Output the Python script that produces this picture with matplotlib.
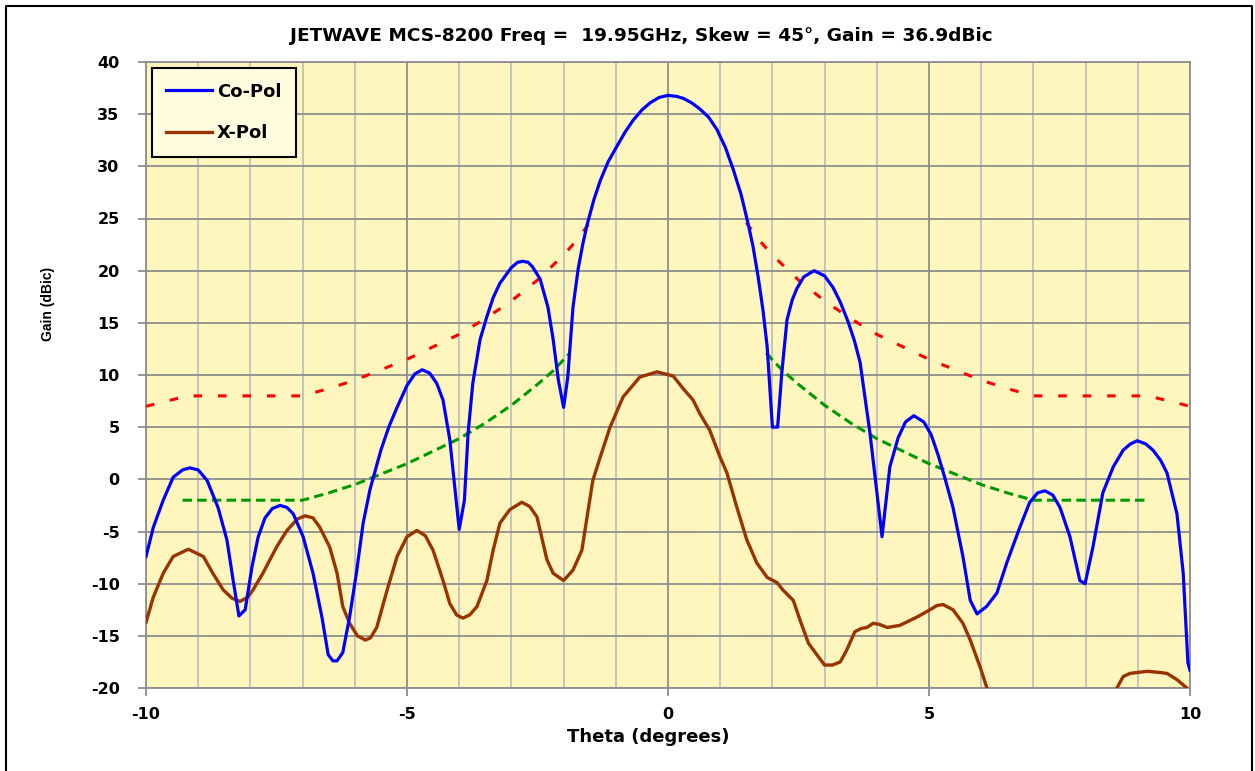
import matplotlib
matplotlib.use("Agg")
import matplotlib.pyplot as plt
from matplotlib.lines import Line2D
from matplotlib.ticker import MultipleLocator

plt.rcParams["axes.unicode_minus"] = False

# ---------------- data ----------------
co_theta = [-10.0, -9.86, -9.67, -9.48, -9.3, -9.16, -9.0, -8.83, -8.62, -8.45, -8.33, -8.22, -8.1,
            -7.97, -7.85, -7.72, -7.58, -7.43, -7.3, -7.18, -6.99, -6.8, -6.63, -6.51, -6.42, -6.34,
            -6.23, -6.1, -5.97, -5.84, -5.71, -5.5, -5.35, -5.19, -5.0, -4.85, -4.71, -4.57, -4.43,
            -4.31, -4.18, -4.08, -4.0, -3.9, -3.83, -3.74, -3.6, -3.47, -3.35, -3.22, -3.0, -2.88,
            -2.78, -2.68, -2.6, -2.45, -2.3, -2.2, -2.1, -2.0, -1.92, -1.82, -1.72, -1.63, -1.55,
            -1.42, -1.3, -1.15, -0.97, -0.82, -0.67, -0.5, -0.34, -0.17, 0.0, 0.17, 0.3, 0.45,
            0.61, 0.78, 0.94, 1.1, 1.25, 1.4, 1.53, 1.63, 1.73, 1.82, 1.9, 2.0, 2.1, 2.18, 2.28,
            2.38, 2.47, 2.6, 2.8, 3.0, 3.16, 3.3, 3.45, 3.57, 3.68, 3.87, 4.1, 4.25, 4.41, 4.55,
            4.71, 4.9, 5.04, 5.17, 5.3, 5.46, 5.65, 5.79, 5.92, 6.1, 6.3, 6.49, 6.74, 6.93, 7.08,
            7.22, 7.37, 7.51, 7.7, 7.89, 7.99, 8.14, 8.33, 8.53, 8.72, 8.86, 8.99, 9.15, 9.29,
            9.44, 9.56, 9.75, 9.87, 9.96, 10.0]
co_gain = [-7.4, -4.6, -2.0, 0.2, 0.9, 1.1, 0.9, -0.1, -2.7, -5.8, -9.7, -13.1, -12.5,
           -8.4, -5.5, -3.7, -2.8, -2.5, -2.7, -3.3, -5.5, -9.0, -13.2, -16.8, -17.4, -17.4,
           -16.6, -13.2, -9.0, -4.2, -1.0, 2.8, 5.0, 6.9, 9.0, 10.1, 10.5, 10.2, 9.2,
           7.6, 3.8, -1.0, -4.8, -2.0, 4.4, 9.2, 13.4, 15.6, 17.4, 18.8, 20.3, 20.8,
           20.9, 20.8, 20.4, 19.2, 16.5, 13.4, 9.5, 6.9, 9.8, 16.5, 20.2, 22.6, 24.4,
           26.8, 28.6, 30.4, 32.0, 33.3, 34.4, 35.4, 36.1, 36.6, 36.8, 36.7, 36.5, 36.1,
           35.5, 34.7, 33.5, 31.8, 29.7, 27.3, 24.6, 22.3, 19.3, 16.2, 12.7, 5.0, 5.0, 10.2, 15.3,
           17.2, 18.3, 19.4, 20.0, 19.5, 18.4, 17.0, 15.1, 13.3, 11.2, 4.4, -5.5, 1.2, 4.0, 5.5,
           6.1, 5.5, 4.3, 2.4, 0.2, -2.7, -7.4, -11.6, -12.9, -12.2, -10.9, -8.0, -4.6, -2.2, -1.3,
           -1.1, -1.5, -2.7, -5.5, -9.7, -10.0, -6.5, -1.3, 1.2, 2.8, 3.4, 3.7, 3.4, 2.8,
           1.8, 0.6, -3.3, -9.0, -17.6, -18.3]

x_theta = [-10.0, -9.86, -9.67, -9.48, -9.19, -8.9, -8.72, -8.52, -8.35, -8.2, -8.05, -7.95, -7.76,
           -7.5, -7.3, -7.1, -6.95, -6.8, -6.67, -6.48, -6.34, -6.23, -6.1, -5.95, -5.8, -5.7,
           -5.58, -5.38, -5.19, -5.0, -4.81, -4.65, -4.5, -4.31, -4.18, -4.05, -3.93, -3.8, -3.66,
           -3.47, -3.35, -3.22, -3.03, -2.8, -2.65, -2.51, -2.32, -2.2, -2.0, -1.82, -1.65, -1.55,
           -1.44, -1.3, -1.11, -0.86, -0.54, -0.21, 0.1, 0.29, 0.48, 0.61, 0.8, 1.0, 1.13, 1.32,
           1.51, 1.7, 1.9, 2.09, 2.2, 2.4, 2.53, 2.69, 2.85, 3.0, 3.15, 3.3, 3.42, 3.58, 3.7,
           3.81, 3.93, 4.05, 4.2, 4.44, 4.77, 5.02, 5.15, 5.27, 5.46, 5.65, 5.79, 5.98, 6.11,
           6.4, 7.0, 7.6, 8.2, 8.6, 8.72, 8.85, 9.18, 9.4, 9.56, 9.75, 9.94, 10.0]
x_gain = [-13.7, -11.3, -9.0, -7.4, -6.7, -7.4, -9.0, -10.6, -11.4, -11.7, -11.3, -10.6, -9.0,
          -6.5, -4.9, -3.8, -3.5, -3.7, -4.6, -6.5, -9.0, -12.2, -13.8, -15.0, -15.4, -15.2,
          -14.2, -10.6, -7.4, -5.5, -4.9, -5.4, -6.8, -9.7, -11.9, -13.0, -13.3, -13.0, -12.2,
          -9.7, -6.8, -4.2, -2.9, -2.2, -2.6, -3.6, -7.7, -9.0, -9.7, -8.7, -6.8, -3.6,
          -0.1, 2.1, 5.0, 7.9, 9.8, 10.3, 9.9, 8.7, 7.6, 6.3, 4.7, 2.1, 0.6, -2.7,
          -5.8, -8.0, -9.4, -9.9, -10.6, -11.6, -13.5, -15.7, -16.8, -17.8, -17.8, -17.5, -16.4, -14.6, -14.3,
          -14.2, -13.8, -13.9, -14.2, -14.0, -13.2, -12.5, -12.1, -12.0, -12.5, -13.8, -15.4, -18.0, -20.0,
          -23.5, -27.0, -27.5, -24.5, -20.0, -18.9, -18.6, -18.4, -18.5, -18.6, -19.2, -20.0, -20.5]

# mask envelopes
red_l_theta = [-10.0, -9.6, -9.2, -8.0, -7.0, -6.5, -6.0, -5.5, -5.0, -4.5, -4.0, -3.5, -3.0, -2.5, -2.0, -1.75, -1.5]
red_l_gain = [7.0, 7.5, 8.0, 8.0, 8.0, 8.7, 9.5, 10.5, 11.5, 12.7, 13.9, 15.4, 17.1, 19.1, 21.5, 22.9, 24.6]
red_r_theta = [1.5, 1.75, 2.0, 2.5, 3.0, 3.5, 4.0, 4.5, 5.0, 5.5, 6.0, 6.5, 7.0, 8.0, 9.2, 9.6, 10.0]
red_r_gain = [24.6, 22.9, 21.5, 19.1, 17.1, 15.4, 13.9, 12.7, 11.5, 10.5, 9.5, 8.7, 8.0, 8.0, 8.0, 7.5, 7.0]
grn_l_theta = [-9.3, -8.0, -7.0, -6.5, -6.0, -5.5, -5.0, -4.5, -4.0, -3.5, -3.0, -2.5, -2.2, -1.88]
grn_l_gain = [-2.0, -2.0, -2.0, -1.3, -0.5, 0.5, 1.5, 2.7, 3.9, 5.4, 7.1, 9.1, 10.4, 12.1]
grn_r_theta = [1.88, 2.2, 2.5, 3.0, 3.5, 4.0, 4.5, 5.0, 5.5, 6.0, 6.5, 7.0, 8.0, 9.2]
grn_r_gain = [12.1, 10.4, 9.1, 7.1, 5.4, 3.9, 2.7, 1.5, 0.5, -0.5, -1.3, -2.0, -2.0, -2.0]

title = "JETWAVE MCS-8200 Freq =  19.95GHz, Skew = 45°, Gain = 36.9dBic"
x_ticks = [-10, -5, 0, 5, 10]
y_ticks = [-20, -15, -10, -5, 0, 5, 10, 15, 20, 25, 30, 35, 40]

# ---------------- figure ----------------
W, H = 1255, 771
fig = plt.figure(figsize=(W / 100, H / 100), dpi=100)
fig.patch.set_facecolor("white")
ax = fig.add_axes([146 / W, 1 - 688 / H, (1190 - 146) / W, (688 - 62) / H])
ax.set_facecolor("#FFF6BE")

ax.set_xlim(-10, 10)
ax.set_ylim(-20, 40)
ax.set_xticks(x_ticks)
ax.set_yticks(y_ticks)
ax.xaxis.set_minor_locator(MultipleLocator(1))
ax.grid(which="minor", axis="x", color="#BEBEBE", lw=1.3)
ax.grid(which="major", axis="both", color="#8E8E8E", lw=1.3)
ax.set_axisbelow(True)
for s in ax.spines.values():
    s.set_color("#8E8E8E")
    s.set_linewidth(1.3)
ax.tick_params(axis="x", which="minor", length=0)
ax.tick_params(axis="both", which="major", length=6, width=1.3, color="#8E8E8E")
ax.tick_params(axis="y", pad=13)
ax.tick_params(axis="x", pad=8)
for lab in ax.get_xticklabels() + ax.get_yticklabels():
    lab.set_fontweight("bold")
    lab.set_fontsize(11.5)
    lab.set_family("DejaVu Sans")

ax.plot(red_l_theta, red_l_gain, color="#FF0000", lw=2.2, dashes=(2.8, 5.2), zorder=3)
ax.plot(red_r_theta, red_r_gain, color="#FF0000", lw=2.2, dashes=(2.8, 5.2), zorder=3)
ax.plot(grn_l_theta, grn_l_gain, color="#009A00", lw=2.2, dashes=(3.1, 1.7), zorder=3)
ax.plot(grn_r_theta, grn_r_gain, color="#009A00", lw=2.2, dashes=(3.1, 1.7), zorder=3)
l1, = ax.plot(co_theta, co_gain, color="#0000FF", lw=2.3, zorder=5, label="Co-Pol")
l2, = ax.plot(x_theta, x_gain, color="#993300", lw=2.4, zorder=4, label="X-Pol")

leg = ax.legend(handles=[l1, l2], loc="upper left", bbox_to_anchor=(0.0057, 0.990),
                borderaxespad=0, fancybox=False, framealpha=1, facecolor="#FFFCE0",
                edgecolor="black", handlelength=2.5, handletextpad=0.3, labelspacing=1.3,
                borderpad=0.8, prop={"weight": "bold", "size": 13, "family": "DejaVu Sans"})
leg.get_frame().set_linewidth(1.5)

fig.text(641 / W, 1 - 36 / H, title, ha="center", va="center", fontsize=13.3,
         fontweight="bold", family="DejaVu Sans")
fig.text(648 / W, 1 - 737 / H, "Theta (degrees)", ha="center", va="center", fontsize=13,
         fontweight="bold", family="DejaVu Sans")
fig.text(48 / W, 1 - 304 / H, "Gain (dBic)", ha="center", va="center", fontsize=10,
         fontweight="bold", family="Liberation Sans", rotation=90)

# outer frame (left, top, right)
fig.add_artist(Line2D([6 / W, 6 / W, 1252 / W, 1252 / W], [0, 1 - 6 / H, 1 - 6 / H, 0],
                      transform=fig.transFigure, color="black", lw=1.5))

fig.savefig("out.png", dpi=100)
